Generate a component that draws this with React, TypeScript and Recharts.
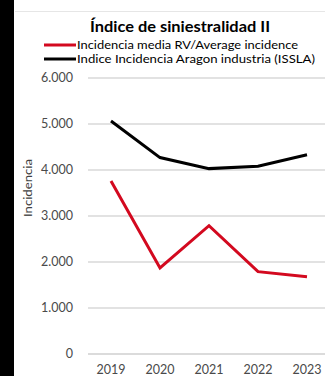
import React from 'react';
import { LineChart, Line, XAxis, YAxis, CartesianGrid } from 'recharts';

const years = ['2019', '2020', '2021', '2022', '2023'];
const mediaRV = [3760, 1870, 2790, 1790, 1680];
const aragonISSLA = [5065, 4270, 4030, 4080, 4330];
const yTicks = [0, 1000, 2000, 3000, 4000, 5000, 6000];
const title = 'Índice de siniestralidad II';
const seriesNames = ['Incidencia media RV/Average incidence', 'Indice Incidencia Aragon industria (ISSLA)'];
const yLabel = 'Incidencia';

const RED = '#d3091f';
const BLACK = '#000000';
const FONT = 'Lato, "Open Sans", sans-serif';

const data = years.map((y, i) => ({ year: y, rv: mediaRV[i], issla: aragonISSLA[i] }));

const fmt = (v: number) => (v === 0 ? '0' : v.toLocaleString('en-US').replace(/,/g, '.'));

export default function App() {
  return (
    <div style={{ position: 'fixed', left: 0, top: 0, width: 325, height: 376, background: '#ffffff', overflow: 'hidden' }}>
      <div style={{ position: 'absolute', left: 0, top: 0, width: 14, height: 376, background: '#000' }} />
      <div style={{ position: 'absolute', left: 15, top: 11, width: 310, height: 1, background: '#e6e6e6' }} />
      <div style={{ position: 'absolute', left: 0, top: 0 }}>
        <LineChart width={325} height={376} data={data} margin={{ top: 78, right: 0, bottom: 0, left: 0 }}>
          <CartesianGrid vertical={false} stroke="#d9d9d9" strokeWidth={1.5} />
          <XAxis
            dataKey="year"
            height={22}
            padding={{ left: 23, right: 18 }}
            tickLine={false}
            axisLine={{ stroke: '#d9d9d9', strokeWidth: 1.5 }}
            tickMargin={5}
            tick={{ fill: '#4a4a4a', fontSize: 12.5, fontFamily: FONT }}
          />
          <YAxis
            width={88}
            domain={[0, 6000]}
            ticks={yTicks}
            tickFormatter={fmt}
            axisLine={false}
            tickLine={false}
            tickSize={0}
            tickMargin={15}
            tick={{ fill: '#4a4a4a', fontSize: 12.5, fontFamily: FONT }}
          />
          <Line dataKey="rv" stroke={RED} strokeWidth={3} dot={false} isAnimationActive={false} />
          <Line dataKey="issla" stroke={BLACK} strokeWidth={3} dot={false} isAnimationActive={false} />
          <text x={180} y={32} textAnchor="middle" fontFamily={FONT} fontWeight={700} fontSize={14.5} fill="#000" textLength={180} lengthAdjust="spacingAndGlyphs">{title}</text>
          <line x1={44} x2={76} y1={45} y2={45} stroke={RED} strokeWidth={3} />
          <text x={77} y={49} fontFamily={FONT} fontSize={11.5} fill="#000" textLength={221} lengthAdjust="spacingAndGlyphs">{seriesNames[0]}</text>
          <line x1={44} x2={76} y1={59} y2={59} stroke={BLACK} strokeWidth={3} />
          <text x={77} y={63} fontFamily={FONT} fontSize={11.5} fill="#000" textLength={238} lengthAdjust="spacingAndGlyphs">{seriesNames[1]}</text>
          <text x={32} y={188} transform="rotate(-90 32 188)" textAnchor="middle" fontFamily={FONT} fontSize={12} fill="#404040" textLength={58} lengthAdjust="spacingAndGlyphs">{yLabel}</text>
        </LineChart>
      </div>
    </div>
  );
}
